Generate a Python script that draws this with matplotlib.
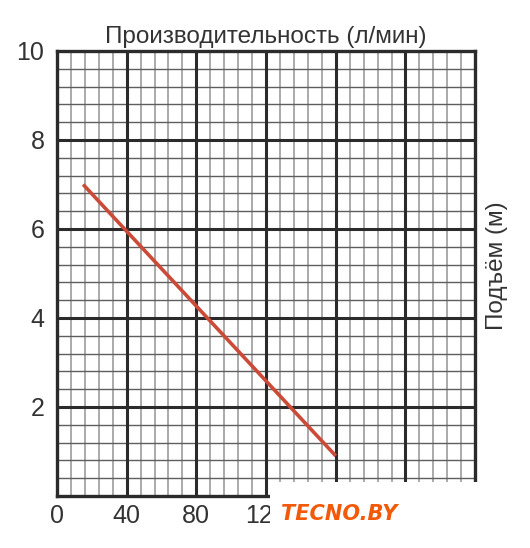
import numpy as np
import matplotlib.pyplot as plt
from matplotlib.patches import Rectangle

plt.rcParams['font.family'] = ['Liberation Sans Narrow', 'Liberation Sans', 'DejaVu Sans']

# data
flow = [15, 160]          # л/мин
head = [7.0, 0.9]         # м
x_ticks = [0, 40, 80, 120, 160, 200, 240]
y_ticks = [2, 4, 6, 8, 10]

fig = plt.figure(figsize=(5.3, 5.48), dpi=100)
ax = fig.add_axes([0.1075, 0.095, 0.789, 0.812])
ax.set_xlim(0, 240)
ax.set_ylim(0, 10)

# millimetre-paper style grid
for xv in np.arange(0, 241, 8):
    if xv % 40:
        ax.axvline(xv, color='#aaaaaa', lw=1.4, zorder=1)
for yv in np.arange(0, 10.01, 0.4):
    if abs(yv / 2 - round(yv / 2)) > 1e-6:
        ax.axhline(yv, color='#5e5e5e', lw=1.0, zorder=1)
for xv in x_ticks[1:-1]:
    ax.axvline(xv, color='#2b2b2b', lw=2.2, zorder=2)
for yv in y_ticks[:-1]:
    ax.axhline(yv, color='#2b2b2b', lw=2.2, zorder=2)

ax.plot(flow, head, color='#cc4a38', lw=2.6, zorder=3, solid_capstyle='butt')

for s in ax.spines.values():
    s.set_color('#2b2b2b')
    s.set_linewidth(2.4)

ax.set_xticks(x_ticks[:4])
ax.set_xticklabels([str(v) for v in x_ticks[:4]])
ax.set_yticks(y_ticks)
ax.tick_params(length=0, labelsize=18, colors='#333333', pad=6)
ax.tick_params(axis='y', pad=9)

ax.set_title('Производительность (л/мин)', fontsize=17.5, color='#333333', pad=6)
fig.text(0.938, 0.515, 'Подъём (м)', rotation=90, fontsize=17.5, color='#333333',
         ha='center', va='center')

# watermark box covering lower right corner
fig.patches.append(Rectangle((0.51, 0.0), 0.41, 0.12, transform=fig.transFigure,
                             facecolor='white', edgecolor='none', zorder=10))
fig.text(0.53, 0.062, 'TECNO.BY', fontsize=15, color='#f25a0a', fontweight='bold',
         style='italic', family='DejaVu Sans', va='center', zorder=11)

fig.savefig('out.png', dpi=100)
